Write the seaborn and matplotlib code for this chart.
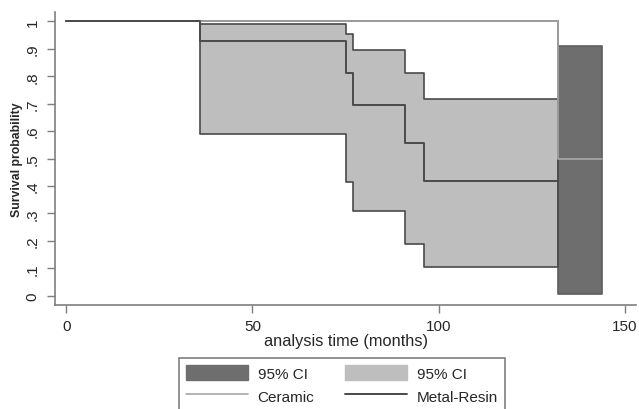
import matplotlib
matplotlib.use("Agg")
import matplotlib.pyplot as plt
import seaborn as sns
import pandas as pd
from matplotlib.patches import Patch
from matplotlib.lines import Line2D

# Metal-Resin Kaplan-Meier estimate and 95% CI
time_mr = [0, 36, 75, 77, 91, 96, 132]
surv_mr = [1.0, 0.929, 0.813, 0.696, 0.557, 0.418, 0.418]
upper_mr = [1.0, 0.990, 0.953, 0.895, 0.813, 0.716, 0.716]
lower_mr = [1.0, 0.590, 0.413, 0.310, 0.188, 0.104, 0.104]

# Ceramic estimate and 95% CI
time_ce = [0, 132, 144]
surv_ce = [1.0, 0.5, 0.5]
upper_ce = [1.0, 0.910, 0.910]
lower_ce = [1.0, 0.005, 0.005]

xticks = [0, 50, 100, 150]
yticks = [0, 0.1, 0.2, 0.3, 0.4, 0.5, 0.6, 0.7, 0.8, 0.9, 1.0]
yticklabels = ["0", ".1", ".2", ".3", ".4", ".5", ".6", ".7", ".8", ".9", "1"]

sns.set_style("white")
plt.rcParams["font.family"] = ["Liberation Sans", "DejaVu Sans"]

DARK_FILL = "#6e6e6e"
LIGHT_FILL = "#bebebe"
DARK_LINE = "#4a4a4a"
LIGHT_LINE = "#a8a8a8"

fig = plt.figure(figsize=(6.39, 4.10), dpi=100)
ax = fig.add_axes([55 / 639, 1 - 306 / 410, 581 / 639, 293 / 410])

df_mr = pd.DataFrame({"t": time_mr, "s": surv_mr, "u": upper_mr, "l": lower_mr})
df_ce = pd.DataFrame({"t": time_ce, "s": surv_ce, "u": upper_ce, "l": lower_ce})

# Metal-Resin CI band
ax.fill_between(df_mr["t"], df_mr["l"], df_mr["u"], step="post",
                color=LIGHT_FILL, linewidth=0, zorder=1)
# Ceramic CI band
ax.fill_between(df_ce["t"], df_ce["l"], df_ce["u"], step="post",
                color=DARK_FILL, linewidth=0, zorder=1)
ax.step(df_ce["t"], df_ce["l"], where="post", color="#5e5e5e", lw=1.2, zorder=2)
ax.step(df_ce["t"], df_ce["u"], where="post", color="#5e5e5e", lw=1.2, zorder=2)
ax.vlines([time_ce[-1]], lower_ce[-1], upper_ce[-1], color="#5e5e5e", lw=1.2, zorder=2)

# CI boundaries for Metal-Resin
sub = df_mr[df_mr["t"] >= 36]
ax.step(sub["t"], sub["u"], where="post", color=DARK_LINE, lw=1.2, zorder=3)
ax.step(sub["t"], sub["l"], where="post", color=DARK_LINE, lw=1.2, zorder=3)
ax.vlines([36, 132], [lower_mr[1], lower_mr[-1]], [upper_mr[1], upper_mr[-1]],
          color=DARK_LINE, lw=1.2, zorder=3)

# Survival curves
sns.lineplot(data=df_ce, x="t", y="s", drawstyle="steps-post", color=LIGHT_LINE,
             lw=1.2, ax=ax, zorder=4)
sns.lineplot(data=df_mr, x="t", y="s", drawstyle="steps-post", color=DARK_LINE,
             lw=1.4, ax=ax, zorder=5)

ax.set_xlim(-3, 153)
ax.set_ylim(-0.034, 1.034)
ax.set_xticks(xticks)
ax.set_xticklabels([str(v) for v in xticks], fontsize=11)
ax.set_yticks(yticks)
ax.set_yticklabels(yticklabels, fontsize=11, rotation=90, va="center")
ax.tick_params(axis="both", which="both", direction="out", length=6, width=1,
               color="#7f7f7f", left=True, bottom=True)
ax.tick_params(axis="x", pad=4)
ax.tick_params(axis="y", pad=5)

for s in ["top", "right"]:
    ax.spines[s].set_visible(False)
for s in ["left", "bottom"]:
    ax.spines[s].set_color("#7f7f7f")
    ax.spines[s].set_linewidth(1.2)

ax.set_xlabel("analysis time (months)", fontsize=11.8, labelpad=0)
ax.set_ylabel("Survival probability", fontsize=8.8, fontweight="bold", labelpad=2)

handles = [
    Patch(facecolor=DARK_FILL, edgecolor=DARK_FILL),
    Line2D([0], [0], color=LIGHT_LINE, lw=1.2),
    Patch(facecolor=LIGHT_FILL, edgecolor=LIGHT_FILL),
    Line2D([0], [0], color=DARK_LINE, lw=1.4),
]
labels = ["95% CI", "Ceramic", "95% CI", "Metal-Resin"]
leg = fig.legend(handles, labels, ncol=2, loc="upper left",
                 bbox_to_anchor=(179 / 639, 1 - 359 / 410),
                 fontsize=11, frameon=True, fancybox=False, framealpha=1,
                 edgecolor="#7f7f7f", handlelength=4.05, handleheight=1.18,
                 handletextpad=0.65, columnspacing=2.0, labelspacing=0.45,
                 borderpad=0.45, borderaxespad=0)
leg.get_frame().set_linewidth(1.2)

fig.savefig("out.png", dpi=100)
